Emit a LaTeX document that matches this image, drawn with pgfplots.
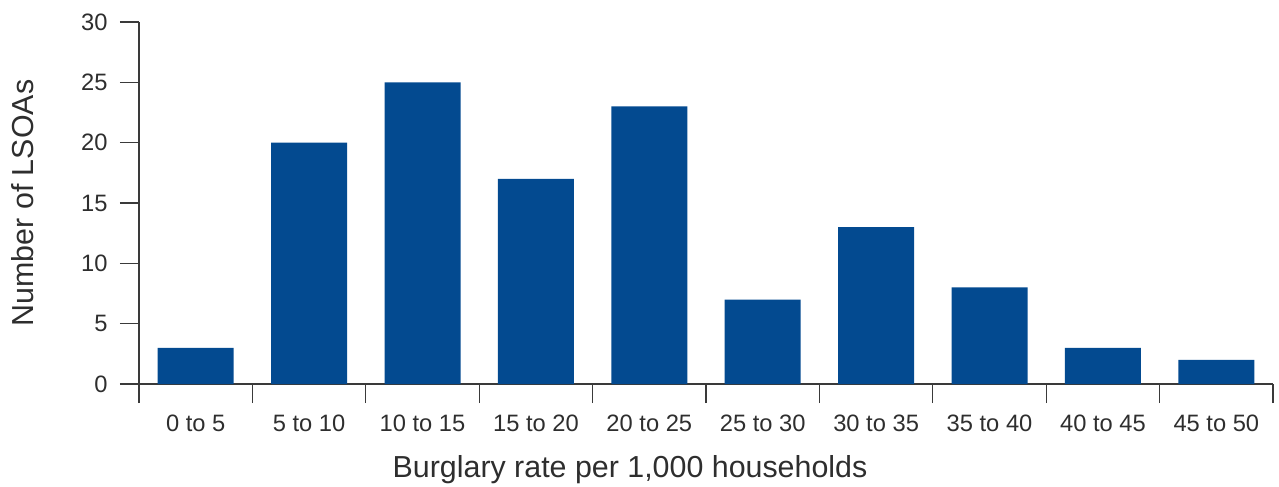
\documentclass[border=0pt]{standalone}
\usepackage{pgfplots}
\pgfplotsset{compat=1.18}
\usepackage{fontspec}
\setmainfont{Liberation Sans}
\definecolor{barblue}{HTML}{034A90}
\definecolor{axgray}{HTML}{3A3A3A}
\definecolor{txtgray}{HTML}{2E2E2E}
\begin{document}
\begin{tikzpicture}[x=1bp,y=1bp]
\useasboundingbox (-139bp,-103bp) rectangle (1140bp,384bp);
\begin{axis}[
  at={(0,0)}, anchor=south west,
  scale only axis,
  width=1134bp, height=362bp,
  xmin=-0.5, xmax=9.5,
  ymin=0, ymax=30,
  ytick={0,5,...,30},
  xtick={-0.5,0.5,...,9.5},
  xticklabels={},
  extra x ticks={0,...,9},
  extra x tick labels={0 to 5,5 to 10,10 to 15,15 to 20,20 to 25,25 to 30,30 to 35,35 to 40,40 to 45,45 to 50},
  extra x tick style={tick style={draw=none}, xticklabel style={yshift=-8bp}},
  axis x line*=bottom,
  axis y line*=left,
  axis line style={axgray, line width=1.2bp},
  tick align=outside,
  major tick length=19bp,
  tick style={axgray, line width=1.2bp},
  /pgf/number format/assume math mode=true,
  tick label style={font=\fontsize{23.8}{28}\selectfont, text=txtgray},
  yticklabel style={anchor=east, xshift=-9bp},
  xticklabel style={anchor=north},
  xlabel={Burglary rate per 1,000 households},
  ylabel={Number of LSOAs},
  every axis y label/.style={at={([xshift=-116bp]rel axis cs:0,0.5)}, anchor=center, rotate=90, font=\fontsize{30.5}{35}\selectfont, text=txtgray},
  every axis x label/.style={at={([xshift=-76bp,yshift=-86bp]rel axis cs:0.5,0)}, anchor=center, font=\fontsize{30.5}{35}\selectfont, text=txtgray},
  ybar,
  bar width=0.67,
  clip=false,
]
\addplot[fill=barblue, draw=none] coordinates {
  (0,3) (1,20) (2,25) (3,17) (4,23) (5,7) (6,13) (7,8) (8,3) (9,2)
};
\end{axis}
\end{tikzpicture}
\end{document}
